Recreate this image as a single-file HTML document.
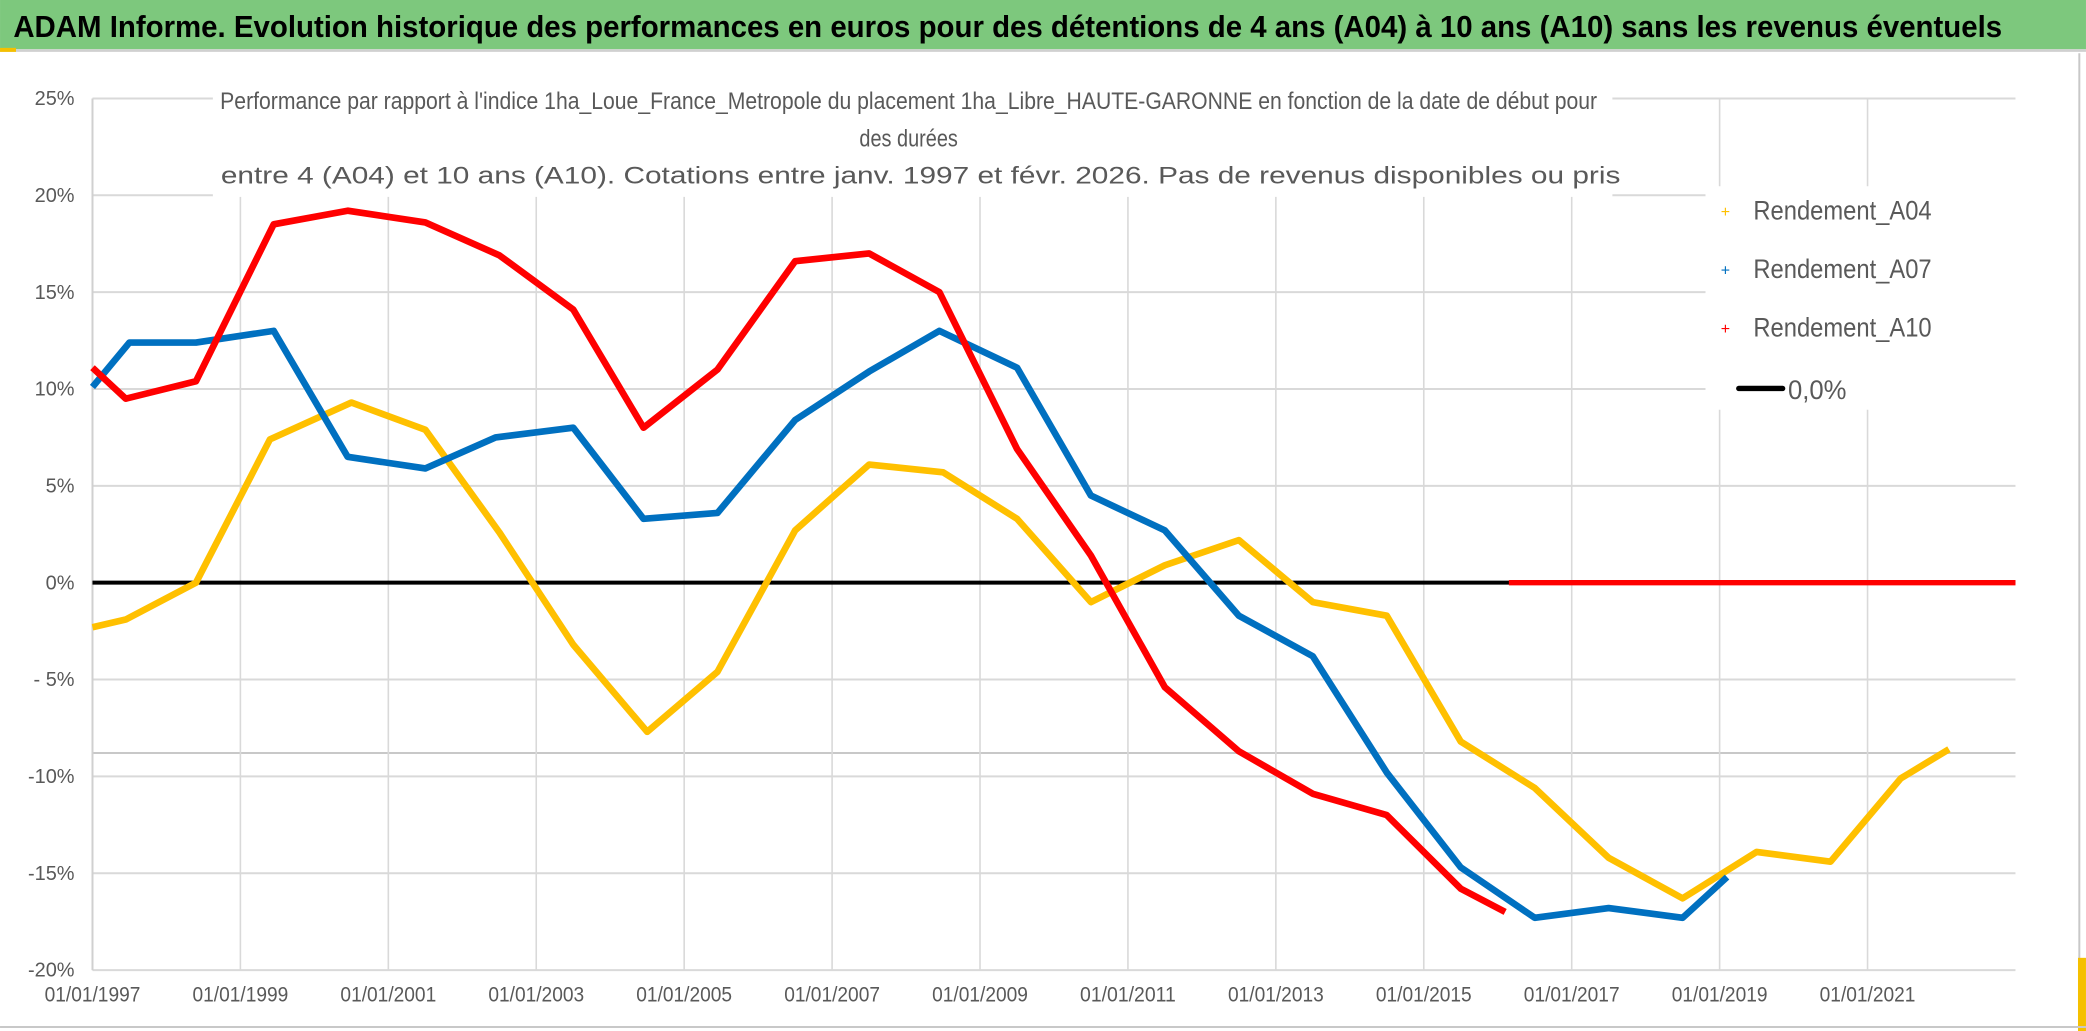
<!DOCTYPE html>
<html><head><meta charset="utf-8"><style>
html,body{margin:0;padding:0;background:#fff;width:2086px;height:1031px;overflow:hidden}
svg{display:block}
text{font-family:"Liberation Sans",sans-serif}
</style></head><body>
<svg id="c" width="2086" height="1031" viewBox="0 0 1568 775" xmlns="http://www.w3.org/2000/svg">
<rect x="0" y="0" width="1568" height="775" fill="#fff"/>
<rect x="0" y="0" width="1568" height="37" fill="#7dc87d"/>
<line x1="0" y1="38" x2="1568" y2="38" stroke="#d0d0d0" stroke-width="2"/>
<rect x="0" y="36" width="12" height="3" fill="#f5c000"/>
<text x="10" y="28" font-size="23" font-weight="bold" fill="#000" textLength="1495" lengthAdjust="spacingAndGlyphs">ADAM Informe. Evolution historique des performances en euros pour des détentions de 4 ans (A04) à 10 ans (A10) sans les revenus éventuels</text>
<line x1="1563" y1="40" x2="1563" y2="775" stroke="#c8c8c8" stroke-width="1.5"/>
<rect x="1562" y="720" width="6" height="55" fill="#f5c000"/>
<line x1="0" y1="772" x2="1568" y2="772" stroke="#c8c8c8" stroke-width="1.5"/>
<g id="grid"></g>
<g id="axes"></g>
<g id="series"></g>
<rect x="160" y="62" width="1052" height="86" fill="#fff"/>
<g fill="#595959" font-size="18" text-anchor="middle">
<text x="683" y="82" textLength="1035" lengthAdjust="spacingAndGlyphs">Performance par rapport à l'indice 1ha_Loue_France_Metropole  du placement 1ha_Libre_HAUTE-GARONNE en fonction de la date de début pour</text>
<text x="683" y="110" textLength="74" lengthAdjust="spacingAndGlyphs">des durées</text>
<text x="692" y="138" font-size="18" textLength="1052" lengthAdjust="spacingAndGlyphs">entre 4 (A04) et 10 ans (A10). Cotations entre janv. 1997 et févr. 2026. Pas de revenus disponibles ou pris</text>
</g>
<rect x="1282" y="140" width="236" height="168" fill="#fff"/>
<g font-size="20" fill="#595959">
<g><text x="1297" y="163" fill="#ffc000" font-size="12" text-anchor="middle">+</text><text x="1318" y="165" textLength="134" lengthAdjust="spacingAndGlyphs">Rendement_A04</text></g>
<g><text x="1297" y="207" fill="#0070c0" font-size="12" text-anchor="middle">+</text><text x="1318" y="209" textLength="134" lengthAdjust="spacingAndGlyphs">Rendement_A07</text></g>
<g><text x="1297" y="251" fill="#ff0000" font-size="12" text-anchor="middle">+</text><text x="1318" y="253" textLength="134" lengthAdjust="spacingAndGlyphs">Rendement_A10</text></g>
<g><line x1="1307" y1="292" x2="1340" y2="292" stroke="#000" stroke-width="4" stroke-linecap="round"/><text x="1344" y="300" textLength="44" lengthAdjust="spacingAndGlyphs">0,0%</text></g>
</g>
</svg>
<script>
const yTicks=[25,20,15,10,5,0,-5,-10,-15,-20];
const yTickLabels=["25%","20%","15%","10%","5%","0%","- 5%","-10%","-15%","-20%"];
const xTicks=[1997,1999,2001,2003,2005,2007,2009,2011,2013,2015,2017,2019,2021];
const xTickLabels=["01/01/1997","01/01/1999","01/01/2001","01/01/2003","01/01/2005","01/01/2007","01/01/2009","01/01/2011","01/01/2013","01/01/2015","01/01/2017","01/01/2019","01/01/2021"];
const a04Dates=[1997,1997.45,1998.4,1999.4,2000.5,2001.5,2002.5,2003.5,2004.5,2005.45,2006.5,2007.5,2008.5,2009.5,2010.5,2011.5,2012.5,2013.5,2014.5,2015.5,2016.5,2017.5,2018.5,2019.5,2020.5,2021.45,2022.1];
const a04Values=[-2.3,-1.9,0.0,7.4,9.3,7.9,2.6,-3.2,-7.7,-4.6,2.7,6.1,5.7,3.3,-1.0,0.9,2.2,-1.0,-1.7,-8.2,-10.6,-14.2,-16.3,-13.9,-14.4,-10.1,-8.6];
const a07Dates=[1997,1997.5,1998.4,1999.45,2000.45,2001.5,2002.45,2003.5,2004.45,2005.45,2006.5,2007.5,2008.45,2009.5,2010.5,2011.5,2012.5,2013.5,2014.5,2015.5,2016.5,2017.5,2018.5,2019.1];
const a07Values=[10.1,12.4,12.4,13.0,6.5,5.9,7.5,8.0,3.3,3.6,8.4,10.9,13.0,11.1,4.5,2.7,-1.7,-3.8,-9.8,-14.7,-17.3,-16.8,-17.3,-15.2];
const a10Dates=[1997,1997.45,1998.4,1999.45,2000.45,2001.5,2002.5,2003.5,2004.45,2005.45,2006.5,2007.5,2008.45,2009.5,2010.5,2011.5,2012.5,2013.5,2014.5,2015.5,2016.1];
const a10Values=[11.1,9.5,10.4,18.5,19.2,18.6,16.9,14.1,8.0,11.0,16.6,17.0,15.0,6.9,1.4,-5.4,-8.7,-10.9,-12.0,-15.8,-17.0];
const a10ZeroDates=[2016.15,2023.0];
const a10ZeroValues=[0,0];
const zeroDates=[1997,2023.0];
const zeroValues=[0,0];

const NS="http://www.w3.org/2000/svg";
const X0=69.5,X1=1515,D0=1997,D1=2023.0;
const Y0=438,YS=14.56;
function sx(d){return X0+(d-D0)/(D1-D0)*(X1-X0);}
function sy(v){return Y0-v*YS;}
function mk(tag,attrs,parent){const e=document.createElementNS(NS,tag);for(const k in attrs)e.setAttribute(k,attrs[k]);parent.appendChild(e);return e;}
const grid=document.getElementById('grid'),axes=document.getElementById('axes'),ser=document.getElementById('series');
yTicks.forEach((v,i)=>{
  const l=mk('line',{x1:X0,x2:X1,y1:sy(v),y2:sy(v),stroke:'#d9d9d9','stroke-width':1.5},grid);
  
  
  const t=mk('text',{x:56,y:sy(v)+5,'font-size':15,fill:'#595959','text-anchor':'end'},axes);
  t.textContent=yTickLabels[i];
  
  
});
const stray=mk('line',{x1:X0,x2:X1,y1:566,y2:566,stroke:'#c8c8c8','stroke-width':1.5},grid);


xTicks.forEach((d,i)=>{
  const l=mk('line',{x1:sx(d),x2:sx(d),y1:sy(25),y2:sy(-20),stroke:'#d9d9d9','stroke-width':1.2},grid);
  
  
  const t=mk('text',{x:sx(d),y:753,'font-size':16,fill:'#595959','text-anchor':'middle',textLength:72,lengthAdjust:'spacingAndGlyphs'},axes);
  t.textContent=xTickLabels[i];
  
  
});
const ax=mk('line',{x1:X0,x2:X0,y1:sy(25),y2:sy(-20),stroke:'#d0d0d0','stroke-width':1.5},axes);


function drawLine(dates,vals,color,w,name){
  const pts=dates.map((d,i)=>sx(d).toFixed(1)+','+sy(vals[i]).toFixed(1)).join(' ');
  const p=mk('polyline',{points:pts,fill:'none',stroke:color,'stroke-width':w,'stroke-linejoin':'round'},ser);
  
  
}
drawLine(zeroDates,zeroValues,'#000',3,'zero-line');
drawLine(a04Dates,a04Values,'#ffc000',5,'series-a04');
drawLine(a07Dates,a07Values,'#0070c0',5,'series-a07');
drawLine(a10Dates,a10Values,'#ff0000',5,'series-a10');
drawLine(a10ZeroDates,a10ZeroValues,'#ff0000',4,'series-a10-zero');
</script>
</body></html>
